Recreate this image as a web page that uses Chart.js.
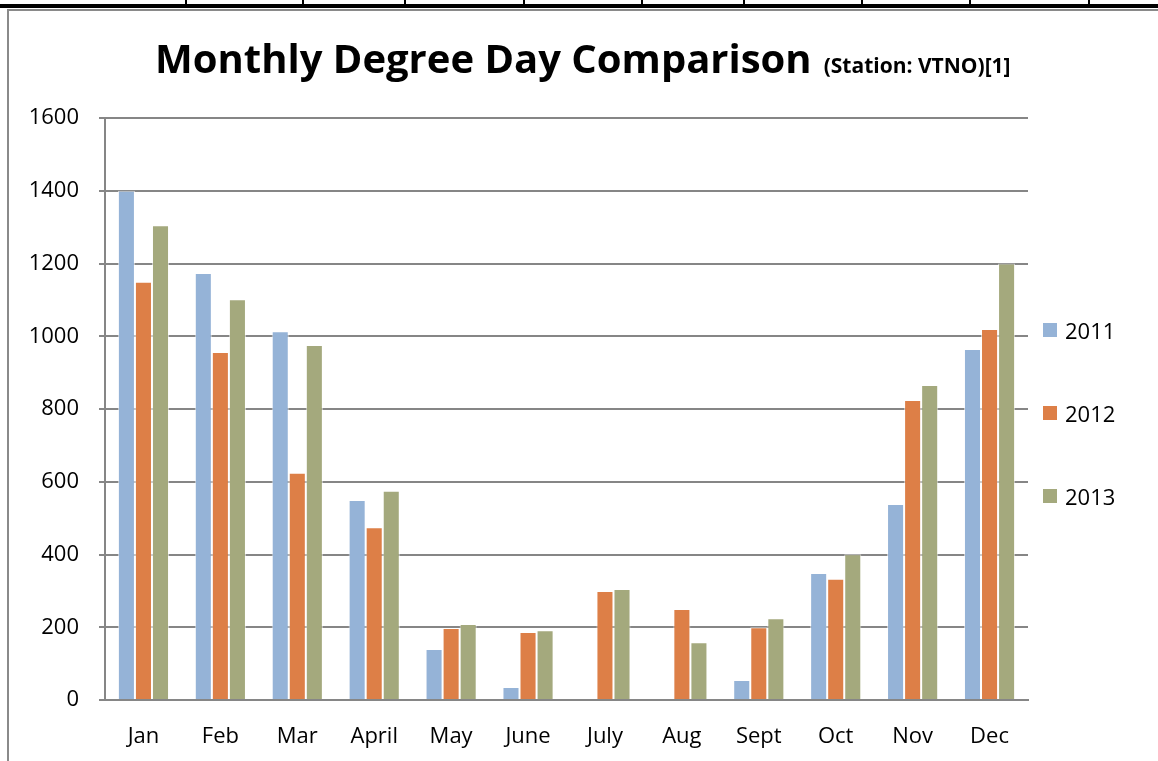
<!DOCTYPE html>
<html lang="en">
<head>
  <meta charset="UTF-8">
  <title>Monthly Degree Day Comparison</title>
  <script src="https://cdn.jsdelivr.net/npm/chart.js"></script>
  <style>
    html, body { margin: 0; padding: 0; background: #fff; }
    body { width: 1158px; height: 761px; position: relative; overflow: hidden; font-family: 'Open Sans', sans-serif; }
    .rule-top { position: absolute; left: 0; top: 4px; width: 1158px; height: 4px; background: #000; }
    .rule-tick { position: absolute; top: 0; width: 2px; height: 8px; background: #000; }
    .frame-top { position: absolute; left: 8px; top: 9px; width: 1150px; height: 2px; background: #8a8a8a; }
    .frame-left { position: absolute; left: 7px; top: 9px; width: 2px; height: 752px; background: #8a8a8a; }
    #title { position: absolute; left: 155px; top: 30px; font-weight: bold; color: #000; white-space: nowrap; }
    #title .main { font-size: 40px; }
    #title .sub { font-size: 21px; margin-left: 12px; }
    #chartBox { position: absolute; left: 0; top: 0; width: 1158px; height: 761px; }
    #legend { position: absolute; left: 1043px; top: 316px; }
    .leg-item { display: flex; align-items: center; height: 28px; margin-bottom: 55px; font-size: 22px; color: #000; }
    .leg-box { width: 14px; height: 14px; margin-right: 8px; }
  </style>
</head>
<body>
  <div class="rule-top"></div>
  <div class="frame-top"></div>
  <div class="frame-left"></div>
  <div id="chartBox"><canvas id="ddChart" width="1158" height="761"></canvas></div>
  <div id="title"><span class="main">Monthly Degree Day Comparison</span><span class="sub">(Station: VTNO)[1]</span></div>
  <div id="legend"></div>
  <script>
    const months = ['Jan', 'Feb', 'Mar', 'April', 'May', 'June', 'July', 'Aug', 'Sept', 'Oct', 'Nov', 'Dec'];
    const years = ['2011', '2012', '2013'];
    const dd2011 = [1400, 1174, 1014, 550, 140, 36, 0, 0, 55, 349, 539, 965];
    const dd2012 = [1150, 957, 625, 475, 198, 187, 300, 250, 200, 333, 825, 1020];
    const dd2013 = [1305, 1102, 976, 575, 209, 192, 305, 159, 225, 401, 866, 1200];
    const yearColors = ['#95b3d7', '#dd7f47', '#a4a97d'];
    const tableTicks = [186, 303, 405, 524, 642, 744, 862, 970, 1089];

    // little vertical marks of the table border above the chart
    tableTicks.forEach(x => {
      const d = document.createElement('div');
      d.className = 'rule-tick';
      d.style.left = (x - 1) + 'px';
      document.body.appendChild(d);
    });

    const series = [dd2011, dd2012, dd2013];
    const datasets = years.map((y, i) => ({
      label: y,
      data: series[i],
      backgroundColor: yearColors[i],
      borderColor: 'rgba(255,255,255,0.6)',
      borderWidth: { left: 1, right: 1, top: 1, bottom: 0 },
      borderSkipped: 'bottom',
      barPercentage: 1.0,
      categoryPercentage: 0.665
    }));

    const gridGray = '#868686';
    const chart = new Chart(document.getElementById('ddChart'), {
      type: 'bar',
      data: { labels: months, datasets },
      options: {
        responsive: false,
        animation: false,
        layout: { padding: { left: 20, right: 130, top: 118, bottom: 0 } },
        plugins: {
          legend: { display: false },
          title: { display: false },
          tooltip: { enabled: false }
        },
        scales: {
          x: {
            grid: { display: false, drawTicks: false },
            border: { display: true, color: gridGray, width: 2 },
            ticks: { color: '#000', font: { family: 'Open Sans', size: 22 }, padding: 24 },
            afterFit: s => { s.height = 61; }
          },
          y: {
            min: 0,
            max: 1600,
            ticks: {
              stepSize: 200,
              color: '#000',
              font: { family: 'Open Sans', size: 22 },
              padding: 20,
              callback: v => String(v)
            },
            grid: { color: gridGray, lineWidth: 2, tickLength: 6, drawTicks: true },
            border: { display: true, color: gridGray, width: 2 },
            afterFit: s => { s.width = 85; }
          }
        }
      }
    });

    // legend built from the same datasets
    const legendEl = document.getElementById('legend');
    chart.data.datasets.forEach(ds => {
      const item = document.createElement('div');
      item.className = 'leg-item';
      item.innerHTML = `<span class="leg-box" style="background:${ds.backgroundColor}"></span><span>${ds.label}</span>`;
      legendEl.appendChild(item);
    });
  </script>
</body>
</html>
